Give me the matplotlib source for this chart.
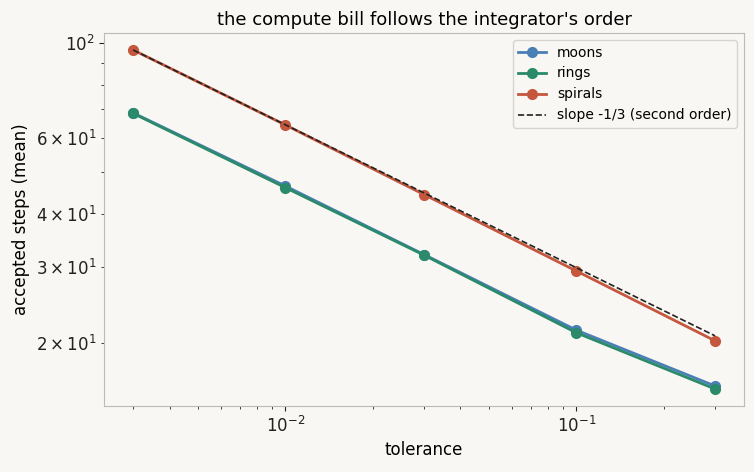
import numpy as np
import matplotlib.pyplot as plt

# data
tolerance = [0.003, 0.01, 0.03, 0.1, 0.3]
moons = [68.7, 46.4, 32.1, 21.4, 15.85]
rings = [68.5, 46.0, 32.0, 21.1, 15.6]
spirals = [96.3, 64.4, 44.3, 29.4, 20.2]

bg = '#f9f7f3'
fig = plt.figure(figsize=(7.54, 4.72), dpi=100, facecolor=bg)
ax = fig.add_axes([0.138, 0.140, 0.849, 0.790], facecolor=bg)

ax.plot(tolerance, moons, marker='o', ms=7, lw=2, color='#4a7fb5', label='moons')
ax.plot(tolerance, rings, marker='o', ms=7, lw=2, color='#2a8a6a', label='rings')
ax.plot(tolerance, spirals, marker='o', ms=7, lw=2, color='#c4573d', label='spirals')

# reference slope through the first spirals point
tol = np.array(tolerance)
ref = spirals[0] * (tol / tol[0]) ** (-1 / 3)
ax.plot(tol, ref, ls='--', lw=1.2, color='#222222', label='slope -1/3 (second order)')

ax.set_xscale('log')
ax.set_yscale('log')

for s in ax.spines.values():
    s.set_color('#bbbbbb')
ax.tick_params(which='both', labelsize=12, colors='#222222')

ax.set_title("the compute bill follows the integrator's order", fontsize=13)
ax.set_xlabel('tolerance', fontsize=12)
ax.set_ylabel('accepted steps (mean)', fontsize=12)
leg = ax.legend(loc='upper right', fontsize=10, facecolor=bg, edgecolor='#cccccc')

fig.savefig('out.png', dpi=100, facecolor=bg)
